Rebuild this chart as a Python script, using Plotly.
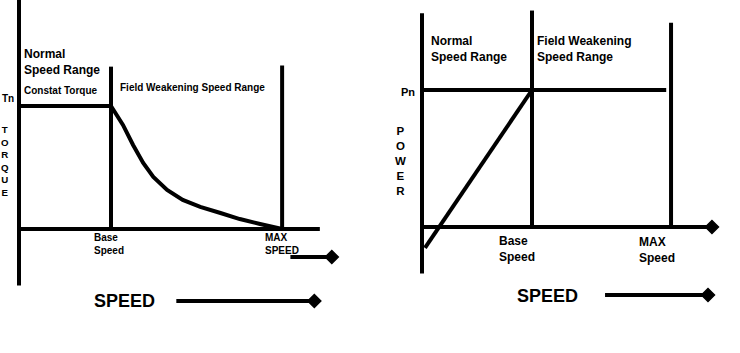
import plotly.graph_objects as go

# ---------------- data (normalised units: base speed = 1, rated torque/power = 1)
# Left panel: torque vs speed
torque_const_speed = [0.0, 1.0]
torque_const_val = [1.0, 1.0]
torque_fw_speed = [1.0, 1.13, 1.24, 1.35, 1.46, 1.61, 1.78, 1.97, 2.19, 2.40, 2.62, 2.86]
torque_fw_val = [1.0, 0.846, 0.683, 0.537, 0.423, 0.317, 0.236, 0.179, 0.130, 0.081, 0.041, 0.0]
left_base_speed = 1.0
left_max_speed = 2.86
left_base_top = 1.32
left_max_top = 1.33
left_yaxis_span = [-0.46, 1.87]
left_xaxis_end = 3.27
left_small_arrow_x = [2.95, 3.40]
left_small_arrow_y = -0.228
left_speed_arrow_x = [1.71, 3.21]
left_speed_arrow_y = -0.585

# Right panel: power vs speed
power_rise_speed = [0.027, 1.0]
power_rise_val = [-0.153, 1.0]
power_flat_speed = [0.0, 2.22]
power_flat_val = [1.0, 1.0]
right_base_speed = 1.0
right_max_speed = 2.264
right_base_top = 1.58
right_max_top = 1.49
right_yaxis_span = [-0.34, 1.56]
right_xaxis_end = 2.636
right_speed_arrow_x = [1.664, 2.60]
right_speed_arrow_y = -0.496

W, H = 740, 353
LW = 4
BLACK = "black"

fig = go.Figure()


def line(xs, ys, ax, width=LW, shape="linear"):
    fig.add_trace(go.Scatter(x=xs, y=ys, mode="lines", xaxis=ax[0], yaxis=ax[1],
                             line=dict(color=BLACK, width=width, shape=shape),
                             hoverinfo="skip", showlegend=False))


def arrow(xs, y, ax):
    line(xs, [y, y], ax)
    fig.add_trace(go.Scatter(x=[xs[1]], y=[y], mode="markers", xaxis=ax[0], yaxis=ax[1],
                             marker=dict(symbol="diamond", size=10, color=BLACK,
                                         opacity=1, line=dict(color=BLACK, width=1.5)),
                             hoverinfo="skip", showlegend=False))


L = ("x", "y")
R = ("x2", "y2")

# Left panel
line([0, 0], left_yaxis_span, L)
line([0, left_xaxis_end], [0, 0], L)
line(torque_const_speed, torque_const_val, L)
line([left_base_speed, left_base_speed], [0, left_base_top], L)
line([left_max_speed, left_max_speed], [0, left_max_top], L)
line(torque_fw_speed, torque_fw_val, L)
arrow(left_small_arrow_x, left_small_arrow_y, L)
arrow(left_speed_arrow_x, left_speed_arrow_y, L)

# Right panel
line([0, 0], right_yaxis_span, R)
arrow([0, right_xaxis_end], 0, R)
arrow(right_speed_arrow_x, right_speed_arrow_y, R)
line(power_flat_speed, power_flat_val, R)
line([right_base_speed, right_base_speed], [0, right_base_top], R)
line([right_max_speed, right_max_speed], [0, right_max_top], R)
line(power_rise_speed, power_rise_val, R)

FONT = "Liberation Sans, Arial, sans-serif"


def txt(text, x, y, size, xanchor="left", align="left"):
    fig.add_annotation(text=text, x=x / W, y=1 - y / H, xref="paper", yref="paper",
                       xanchor=xanchor, yanchor="middle", align=align, showarrow=False,
                       font=dict(family=FONT, size=size, color=BLACK), borderpad=0)


# Left texts
txt("<b>Normal<br>Speed Range</b>", 23, 62.5, 12)
txt("<b>Constat Torque</b>", 23, 90, 10)
txt("<b>Field Weakening Speed Range</b>", 119, 87, 10)
txt("<b>Tn</b>", 8, 99, 10, xanchor="center")
txt("<b>T<br>O<br>R<br>Q<br>U<br>E</b>", 5, 160.5, 9.7, xanchor="center", align="center")
txt("<b>Base<br>Speed</b>", 93, 244.5, 10)
txt("<b>MAX<br>SPEED</b>", 264, 244.5, 10)
txt("<b>SPEED</b>", 93, 301, 18)

# Right texts
txt("<b>Normal<br>Speed Range</b>", 430, 48.5, 12)
txt("<b>Field Weakening<br>Speed Range</b>", 536, 48.5, 12)
txt("<b>Pn</b>", 408, 92, 11, xanchor="center")
txt("<b>P<br>O<br>W<br>E<br>R</b>", 400, 160.5, 11.5, xanchor="center", align="center")
txt("<b>Base<br>Speed</b>", 498, 248.5, 12)
txt("<b>MAX<br>Speed</b>", 638, 249.5, 12)
txt("<b>SPEED</b>", 516, 296, 18)

ax_common = dict(visible=False, showgrid=False, zeroline=False, fixedrange=True)
fig.update_layout(
    width=W, height=H,
    margin=dict(l=0, r=0, t=0, b=0),
    paper_bgcolor="white", plot_bgcolor="white",
    showlegend=False,
    xaxis=dict(domain=[0, 1], range=[-19 / 92, 721 / 92], anchor="y", **ax_common),
    yaxis=dict(domain=[0, 1], range=[(229 - 353) / 123, 229 / 123], anchor="x", **ax_common),
    xaxis2=dict(domain=[0, 1], range=[-422 / 110, (740 - 422) / 110], anchor="y2",
                overlaying="x", **ax_common),
    yaxis2=dict(domain=[0, 1], range=[(227 - 353) / 137, 227 / 137], anchor="x2",
                overlaying="y", **ax_common),
)

fig.write_html("out.html")
